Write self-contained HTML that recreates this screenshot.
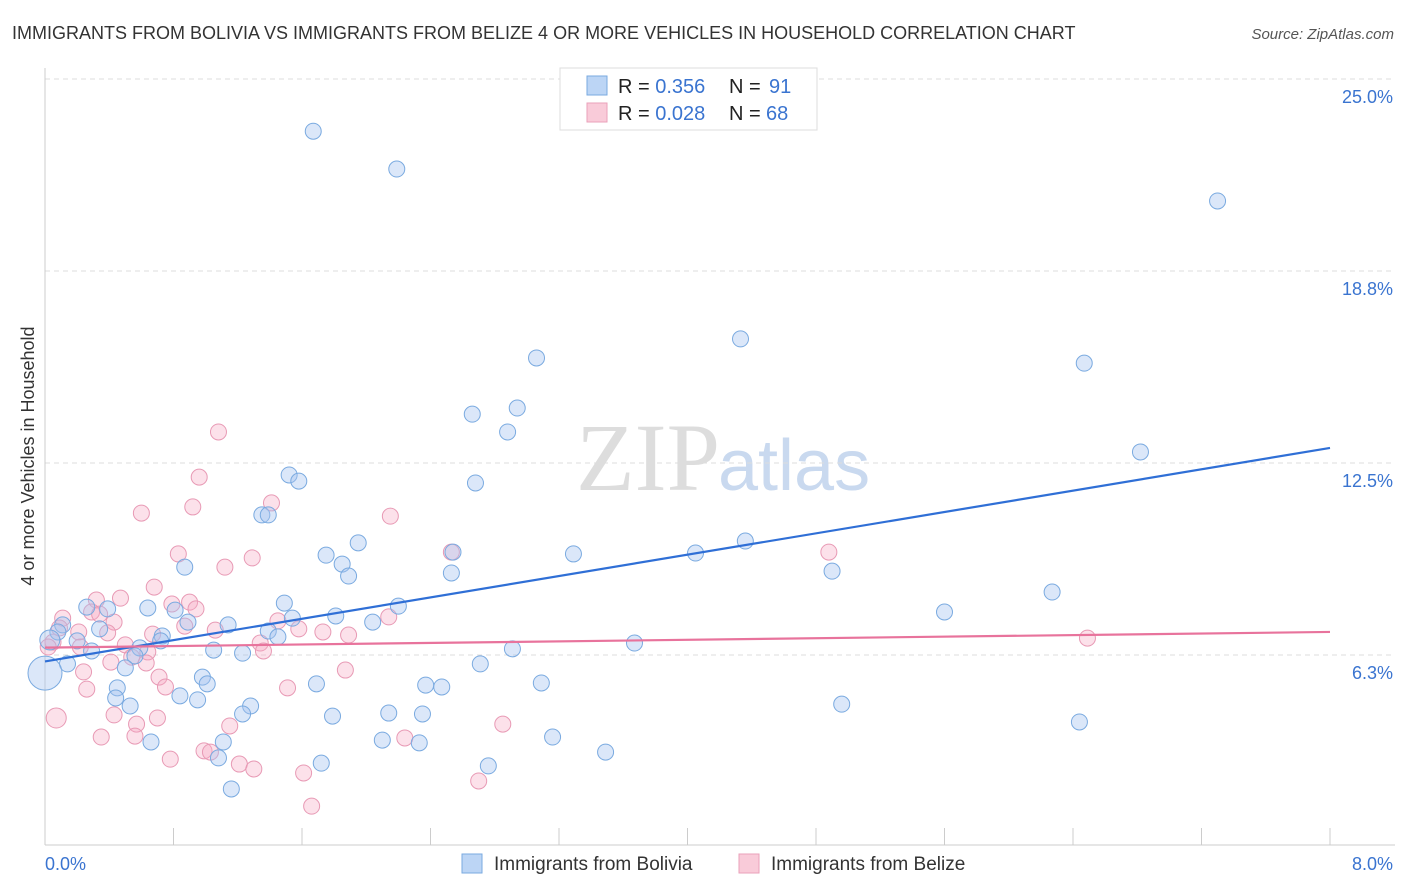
<!DOCTYPE html>
<html><head><meta charset="utf-8"><style>
body{margin:0;background:#fff;font-family:"Liberation Sans",sans-serif;}
svg{display:block}
</style></head><body>
<svg id="chart" width="1406" height="892">
<text x="12" y="39" font-size="18" fill="#333">IMMIGRANTS FROM BOLIVIA VS IMMIGRANTS FROM BELIZE 4 OR MORE VEHICLES IN HOUSEHOLD CORRELATION CHART</text>
<text x="1394" y="39" font-size="15" fill="#555" font-style="italic" text-anchor="end">Source: ZipAtlas.com</text>
<text x="720" y="490" font-size="96" fill="#ddd" text-anchor="end" font-family="Liberation Serif">ZIP</text>
<text x="718" y="490" font-size="72" fill="#c9d9ef">atlas</text>
<text transform="translate(34,456) rotate(-90)" font-size="18" fill="#333" text-anchor="middle">4 or more Vehicles in Household</text>
<g id="grid"></g><g id="lines"></g><g id="pts"></g>
<g>
<rect x="560" y="68" width="257" height="62" fill="#fff" stroke="#ddd"/>
<rect x="587" y="76" width="20" height="19" fill="#bcd5f5" stroke="#7aaae0"/>
<rect x="587" y="103" width="20" height="19" fill="#f9cbd9" stroke="#eaa0ba"/>
<text x="618" y="93" font-size="20" fill="#222">R = <tspan fill="#3a74d0">0.356</tspan><tspan x="729">N = </tspan><tspan x="769" fill="#3a74d0">91</tspan></text>
<text x="618" y="120" font-size="20" fill="#222">R = <tspan fill="#3a74d0">0.028</tspan><tspan x="729">N = </tspan><tspan x="766" fill="#3a74d0">68</tspan></text>
</g>
<g>
<rect x="462" y="854" width="20" height="19" fill="#bcd5f5" stroke="#7aaae0"/>
<text x="494" y="870" font-size="19" fill="#333">Immigrants from Bolivia</text>
<rect x="739" y="854" width="20" height="19" fill="#f9cbd9" stroke="#eaa0ba"/>
<text x="771" y="870" font-size="19" fill="#333">Immigrants from Belize</text>
</g>
</svg>
<script>
const yTicks=[6.3,12.5,18.8,25.0];
const xTickLabels=["0.0%","8.0%"];
const blueX=[1.67,2.19,7.30,4.33,3.06,6.47,2.94,2.66,2.88,6.82,1.52,1.58,2.68,1.35,1.39,1.95,1.75,3.29,4.05,4.36,2.54,0.87,1.85,1.89,2.53,4.90,6.27,5.60,1.49,2.20,0.26,0.39,0.64,0.81,1.54,1.81,2.04,1.14,0.89,0.11,0.34,0.08,0.73,1.39,1.45,0.72,0.20,0.59,0.29,1.05,1.23,2.91,3.67,0.56,0.14,0.50,2.71,0.98,1.01,1.69,3.09,2.37,2.47,0.45,0.84,0.95,0.44,0.53,1.28,1.23,1.79,2.14,2.35,4.96,6.44,1.11,2.10,2.33,3.16,0.66,3.49,1.08,1.72,2.76,1.16,0.00,0.03];
const blueY=[23.3,22.07,21.03,16.54,15.92,15.75,14.29,14.09,13.51,12.86,12.11,11.91,11.85,10.81,10.81,9.90,9.50,9.54,9.57,9.96,9.60,9.11,9.21,8.82,8.92,8.98,8.30,7.65,7.94,7.84,7.81,7.75,7.78,7.71,7.45,7.52,7.32,7.23,7.32,7.23,7.10,7.00,6.87,7.03,6.84,6.71,6.71,6.48,6.38,6.41,6.31,6.45,6.64,6.22,5.96,5.83,5.96,5.53,5.31,5.31,5.34,5.27,5.21,5.18,4.92,4.79,4.85,4.59,4.59,4.33,4.26,4.36,4.33,4.65,4.07,3.42,3.48,3.39,3.58,3.42,3.09,2.90,2.73,2.64,1.89,5.66,6.74];
const pinkX=[1.08,0.96,1.41,0.92,0.60,2.15,0.83,1.29,2.53,4.88,1.12,0.68,0.47,0.32,0.90,0.79,0.11,0.29,0.94,0.34,0.09,1.45,2.14,0.87,0.43,0.21,1.58,1.73,1.06,0.39,0.67,1.89,6.49,0.05,0.22,0.50,1.34,1.36,0.64,0.54,0.41,0.63,0.24,1.87,0.71,0.75,0.26,1.51,0.07,0.43,0.70,0.57,1.15,2.85,0.35,0.56,2.24,0.99,1.03,0.78,1.21,1.30,1.61,2.70,1.66,0.02];
const pinkY=[13.51,12.04,11.20,11.07,10.87,10.77,9.54,9.41,9.60,9.60,9.11,8.46,8.10,8.04,7.97,7.91,7.45,7.65,7.75,7.58,7.13,7.36,7.49,7.19,7.32,7.00,7.10,7.00,7.06,6.97,6.93,6.90,6.80,6.67,6.51,6.58,6.64,6.38,6.35,6.18,6.02,5.99,5.70,5.76,5.53,5.21,5.14,5.18,4.20,4.30,4.20,4.00,3.94,4.00,3.58,3.61,3.55,3.13,3.09,2.86,2.70,2.54,2.41,2.15,1.33,6.51];
const blueTrend=[6.04,12.99];
const pinkTrend=[6.49,7.00];
const X=v=>45+v/8*1285, Y=v=>847-v/6.25*192;
const NS="http://www.w3.org/2000/svg";
function mk(tag,attrs,parent){const e=document.createElementNS(NS,tag);for(const k in attrs)e.setAttribute(k,attrs[k]);parent.appendChild(e);return e;}
const grid=document.getElementById('grid');
yTicks.forEach(t=>{const y=Y(t===25.0?25:t===18.8?18.75:t===12.5?12.5:6.25);
 const l=mk('line',{x1:45,x2:1395,y1:y,y2:y,stroke:'#ddd','stroke-dasharray':'5,4'},grid);
 
 
 const tx=mk('text',{x:1393,y:y+24,'font-size':18,fill:'#3a74d0','text-anchor':'end'},grid);tx.textContent=t.toFixed(1)+'%';
 
 });
const ax=mk('line',{x1:45,x2:1395,y1:845,y2:845,stroke:'#ccc'},grid);


const ay=mk('line',{x1:45,x2:45,y1:68,y2:845,stroke:'#ccc'},grid);


for(let i=0;i<=10;i++){const x=X(i*0.8);const t=mk('line',{x1:x,x2:x,y1:828,y2:845,stroke:'#ccc'},grid);
 
 }
[[0,xTickLabels[0],'start',45],[8,xTickLabels[1],'end',1393]].forEach(d=>{const t=mk('text',{x:d[3],y:870,'font-size':18,fill:'#3a74d0','text-anchor':d[2]},grid);t.textContent=d[1];
 
 });
const pts=document.getElementById('pts');
function series(xs,ys,fill,stroke,name){xs.forEach((x,i)=>{const big=(name==='bolivia-point'&&i>=xs.length-2)||(name==='belize-point'&&i===48);
 const c=mk('circle',{cx:X(x),cy:Y(ys[i]),r:big?(i===xs.length-2?17:10):8,fill:fill,stroke:stroke,'stroke-width':1},pts);
 
 });}
series(pinkX,pinkY,'rgba(245,170,195,0.35)','#e89ab5','belize-point');
series(blueX,blueY,'rgba(164,196,240,0.4)','#7aaae0','bolivia-point');
const lines=document.getElementById('lines');
const bl=mk('line',{x1:X(0),y1:Y(blueTrend[0]),x2:X(8),y2:Y(blueTrend[1]),stroke:'#2f6fd6','stroke-width':2.2},lines);


const pl=mk('line',{x1:X(0),y1:Y(pinkTrend[0]),x2:X(8),y2:Y(pinkTrend[1]),stroke:'#e8739c','stroke-width':2.2},lines);


document.getElementById('chart').appendChild(lines);
</script>
</body></html>
